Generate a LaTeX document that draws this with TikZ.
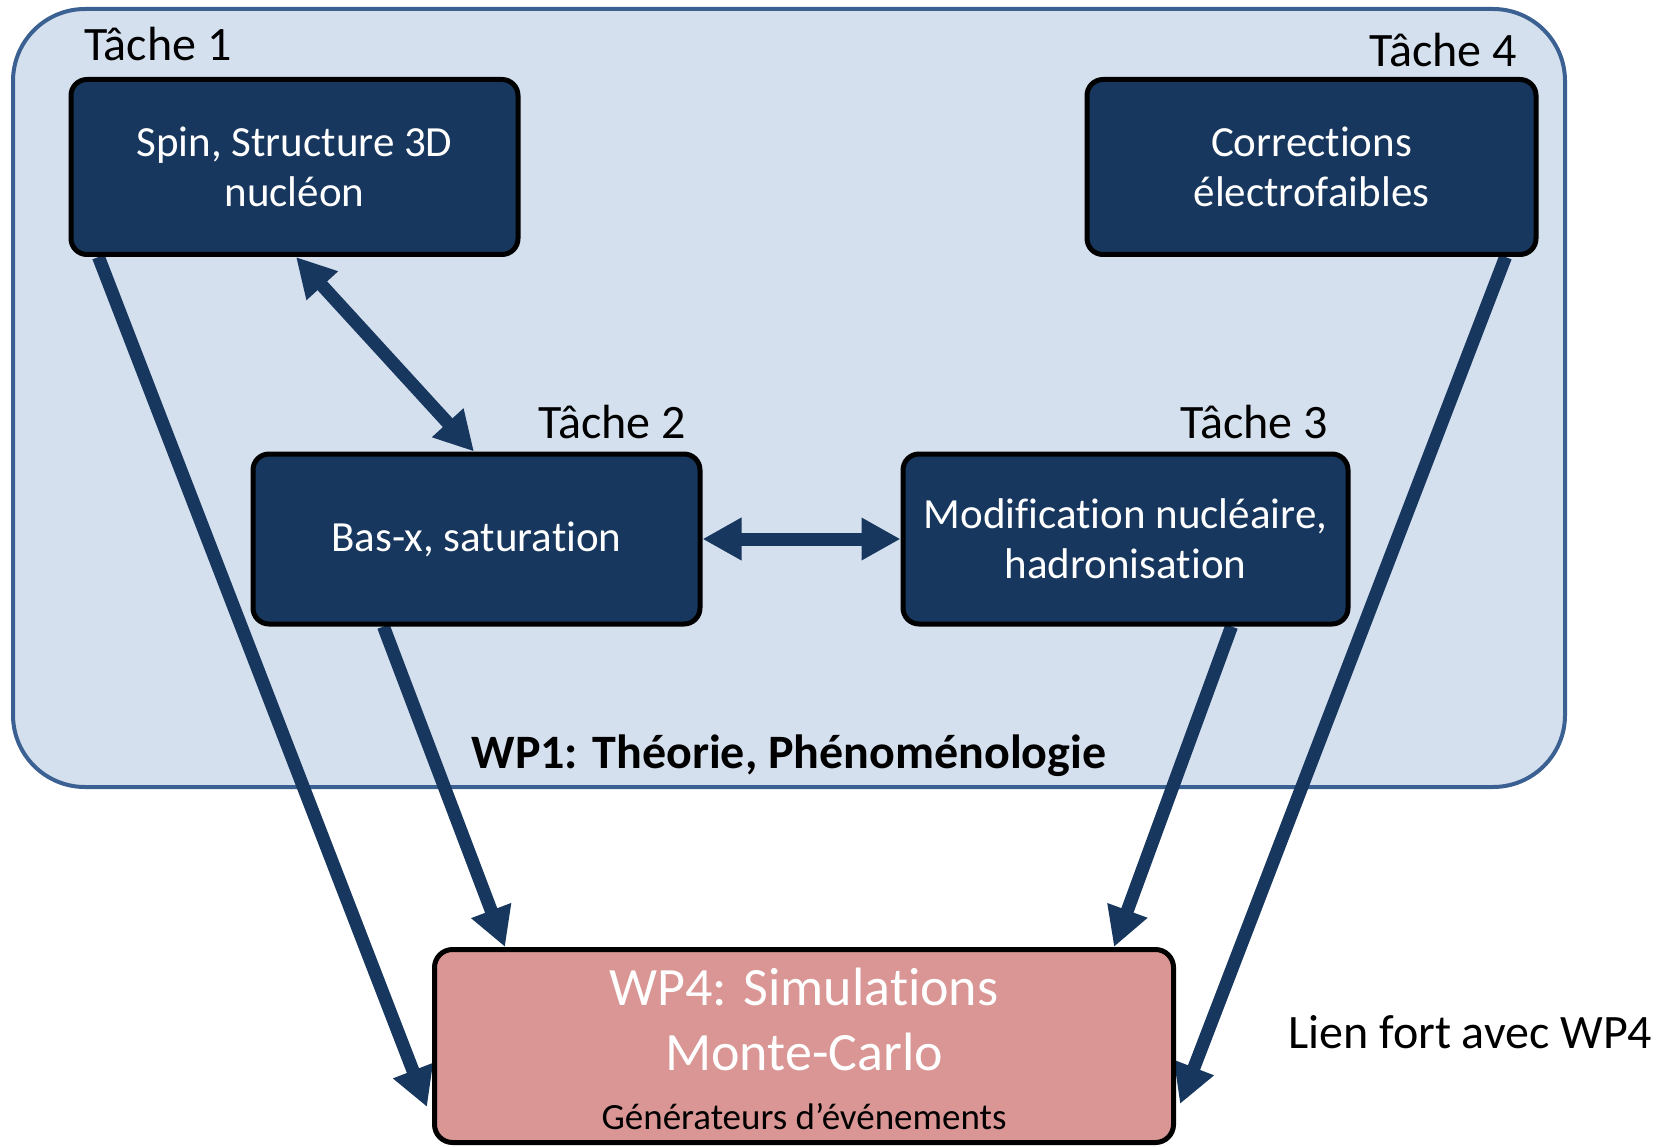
\documentclass[tikz,border=0pt]{standalone}
\usepackage{fontspec}
\setmainfont{Carlito}[Ligatures=NoCommon]
\usetikzlibrary{arrows.meta}
\definecolor{navy}{HTML}{17375E}
\definecolor{wpfill}{HTML}{D5E0EE}
\definecolor{wpline}{HTML}{3A6191}
\definecolor{simfill}{HTML}{D99694}
\pgfdeclarelayer{back}
\pgfdeclarelayer{mid}
\pgfsetlayers{back,mid,main}
\begin{document}
\begin{tikzpicture}[x=1pt,y=-1pt,
  task/.style={draw=black,line width=5pt,fill=navy,rounded corners=16pt,text=white,
    align=center,font=\fontsize{43}{50}\selectfont,inner sep=0pt},
  link/.style={draw=navy,line width=13pt,-{Triangle[width=40pt,length=39pt]}},
  bilink/.style={draw=navy,line width=13pt,{Triangle[width=40pt,length=39pt]}-{Triangle[width=40pt,length=39pt]}},
  tasklabel/.style={font=\fontsize{48}{56}\selectfont,inner sep=0pt}]
\useasboundingbox (0,0) rectangle (1672,1147);
\begin{pgfonlayer}{back}
\node[draw=wpline,line width=4pt,fill=wpfill,rounded corners=72pt,
  minimum width=1552pt,minimum height=778pt,inner sep=0pt] (wp1) at (789,398) {};
\end{pgfonlayer}
% task boxes
\node[task,minimum width=447pt,minimum height=175pt] (t1) at (294.5,167) {Spin, Structure 3D\\nucléon};
\node[task,minimum width=449pt,minimum height=175pt] (t4) at (1311.5,167) {Corrections\\électrofaibles};
\node[task,minimum width=447pt,minimum height=170pt] (t2) at (476.5,539) {Bas-x, saturation};
\node[task,minimum width=445pt,minimum height=170pt] (t3) at (1125.5,539) {Modification nucléaire,\\hadronisation};
% WP4 box
\node[draw=black,line width=5pt,fill=simfill,rounded corners=18pt,minimum width=739pt,
  minimum height=193pt,inner sep=0pt] (wp4) at (804,1046) {};
\node[align=center,text=white,inner sep=0pt,font=\fontsize{54}{65}\selectfont] (wp4txt) at (804,1049)
  {WP4: Simulations\\Monte-Carlo\\[-6.5pt]\fontsize{37}{43}\selectfont\color{black}Générateurs d’événements};
% labels
\node[tasklabel,anchor=base west] (l1) at (84,61) {Tâche 1};
\node[tasklabel,anchor=base east] (l4) at (1517,67) {Tâche 4};
\node[tasklabel,anchor=base east] (l2) at (686,438) {Tâche 2};
\node[tasklabel,anchor=base east] (l3) at (1328,438) {Tâche 3};
\node[font=\bfseries\fontsize{48}{56}\selectfont,anchor=base,inner sep=0pt] (wp1lab) at (789,768) {WP1: Théorie, Phénoménologie};
\node[font=\fontsize{48}{56}\selectfont,anchor=base west,inner sep=0pt] (lien) at (1288,1048) {Lien fort avec WP4};
% connectors
\begin{pgfonlayer}{mid}
\draw[link] ([xshift=30pt]t1.south west) -- ([xshift=-5pt,yshift=-61pt]wp4.west);
\draw[link] ([xshift=-33pt]t4.south east) -- ([xshift=4pt,yshift=-58pt]wp4.east);
\draw[link] ([xshift=133pt]t2.south west) -- ([xshift=73pt]wp4.north west);
\draw[link] ([xshift=331pt]t3.south west) -- ([xshift=-62pt]wp4.north east);
\draw[bilink] ([xshift=1.5pt]t1.south) -- ([xshift=-2.5pt]t2.north);
\draw[bilink] (t2.east) -- (t3.west);
\end{pgfonlayer}
\end{tikzpicture}
\end{document}
